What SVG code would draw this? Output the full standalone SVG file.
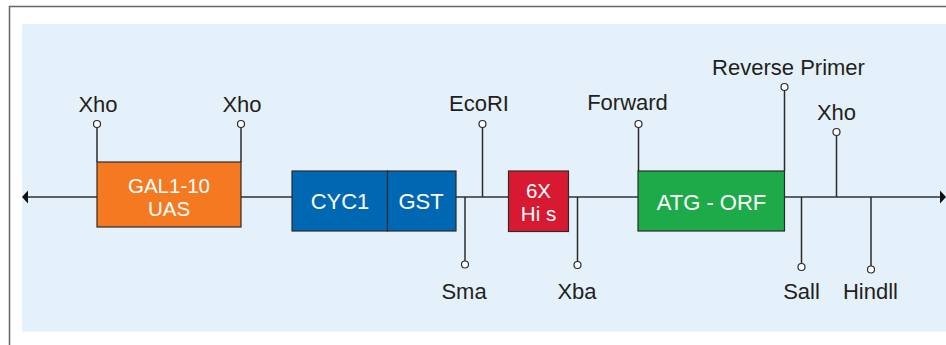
<svg xmlns="http://www.w3.org/2000/svg" width="946" height="345" viewBox="0 0 946 345">
<defs>
<style>
.lbl{font-family:"Liberation Sans",Arial,sans-serif;font-size:22px;fill:#231f20;text-anchor:middle}
.in{font-family:"Liberation Sans",Arial,sans-serif;font-size:22px;fill:#ffffff;text-anchor:middle}
.in2{font-family:"Liberation Sans",Arial,sans-serif;font-size:20.5px;fill:#ffffff;text-anchor:middle}
.box{stroke:#2b2b2b;stroke-width:1.2}
.pin{stroke:#2b2b2b;stroke-width:1.5;fill:none}
.dot{fill:#ffffff;stroke:#2b2b2b;stroke-width:1.2}
.main{stroke:#5b6168;stroke-width:2;fill:none}
</style>
</defs>
<rect x="0" y="0" width="946" height="345" fill="#ffffff"/>
<rect x="9.5" y="6.5" width="1000" height="1000" fill="none" stroke="#666666" stroke-width="1.5"/>
<rect x="22" y="24" width="924" height="307.5" fill="#e5f1fa"/>
<g id="connectors">
<line class="main" x1="27" y1="197" x2="941" y2="197"/>
<polygon points="22,197 28,190.5 28,203.5" fill="#111111"/>
<polygon points="946,197 940,190.5 940,203.5" fill="#111111"/>
</g>
<g id="gal">
<rect class="box" x="97" y="162" width="144" height="65" fill="#f47920"/>
<text class="in2" x="169" y="193">GAL1-10</text>
<text class="in2" x="169" y="216">UAS</text>
</g>
<g id="cyc1">
<rect class="box" x="292" y="171" width="95.5" height="60" fill="#0068b3"/>
<text class="in" x="340" y="209">CYC1</text>
</g>
<g id="gst">
<rect class="box" x="387.5" y="171" width="68.5" height="60" fill="#0068b3"/>
<text class="in" x="421" y="209">GST</text>
</g>
<g id="his">
<rect class="box" x="508.5" y="171" width="60" height="60.5" fill="#d71a31"/>
<text class="in2" x="538.5" y="198">6X</text>
<text class="in2" x="538.5" y="221">Hi s</text>
</g>
<g id="orf">
<rect class="box" x="638" y="171" width="146.5" height="60" fill="#1dab4a"/>
<text class="in" x="711.5" y="210">ATG - ORF</text>
</g>
<g id="xho1">
<line class="pin" x1="97" y1="127" x2="97" y2="162"/>
<circle class="dot" cx="97" cy="124" r="3.5"/>
<text class="lbl" x="98" y="112">Xho</text>
</g>
<g id="xho2">
<line class="pin" x1="241" y1="127" x2="241" y2="162"/>
<circle class="dot" cx="241" cy="124" r="3.5"/>
<text class="lbl" x="242" y="112">Xho</text>
</g>
<g id="ecori">
<line class="pin" x1="482.5" y1="127" x2="482.5" y2="197"/>
<circle class="dot" cx="482.5" cy="124" r="3.5"/>
<text class="lbl" x="479" y="111">EcoRI</text>
</g>
<g id="sma">
<line class="pin" x1="465" y1="197" x2="465" y2="261"/>
<circle class="dot" cx="465" cy="264.5" r="3.5"/>
<text class="lbl" x="464" y="299">Sma</text>
</g>
<g id="xba">
<line class="pin" x1="577.5" y1="197" x2="577.5" y2="262"/>
<circle class="dot" cx="577.5" cy="265" r="3.5"/>
<text class="lbl" x="577" y="299">Xba</text>
</g>
<g id="forward">
<line class="pin" x1="638.5" y1="127" x2="638.5" y2="171"/>
<circle class="dot" cx="638.5" cy="124" r="3.5"/>
<text class="lbl" x="627.5" y="110">Forward</text>
</g>
<g id="reverse">
<line class="pin" x1="784.5" y1="90" x2="784.5" y2="171"/>
<circle class="dot" cx="784.5" cy="87" r="3.5"/>
<text class="lbl" x="788.5" y="74.5">Reverse Primer</text>
</g>
<g id="xho3">
<line class="pin" x1="836.5" y1="135" x2="836.5" y2="197"/>
<circle class="dot" cx="836.5" cy="132" r="3.5"/>
<text class="lbl" x="836.5" y="120">Xho</text>
</g>
<g id="sall">
<line class="pin" x1="801.5" y1="197" x2="801.5" y2="264"/>
<circle class="dot" cx="801.5" cy="267" r="3.5"/>
<text class="lbl" x="801.5" y="299">Sall</text>
</g>
<g id="hindll">
<line class="pin" x1="871" y1="197" x2="871" y2="266.5"/>
<circle class="dot" cx="871" cy="269.5" r="3.5"/>
<text class="lbl" x="870.5" y="299">Hindll</text>
</g>
</svg>
